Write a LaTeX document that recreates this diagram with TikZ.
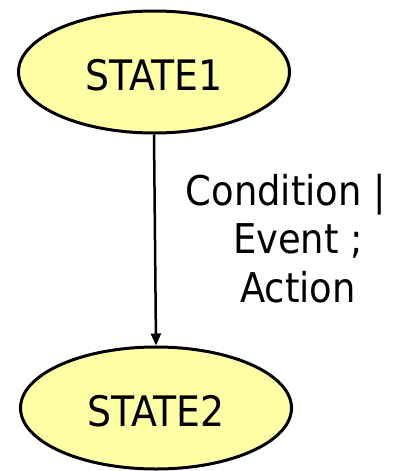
\documentclass[tikz,border=0pt]{standalone}
\usepackage{fontspec}
\setmainfont{DejaVu Sans Condensed}
\usetikzlibrary{shapes.geometric,arrows.meta}
\definecolor{statefill}{HTML}{FFFFA6}
\tikzset{
  state/.style={ellipse, draw=black, line width=3pt, fill=statefill,
    minimum width=271pt, minimum height=122pt, inner sep=0pt,
    font=\fontsize{42}{50}\selectfont, text height=37pt, text depth=0pt},
  trans/.style={line width=2.5pt, -{Triangle[length=12pt,width=10pt]}},
  translabel/.style={font=\fontsize{41}{48.5}\selectfont, align=center}
}
\begin{document}
\begin{tikzpicture}[x=1pt,y=-1pt]
  \useasboundingbox (0,0) rectangle (401,471);
  \node[state] (s1) at (154,72) {STATE1};
  \node[state] (s2) at (156,408) {STATE2};
  \draw[trans] (s1.south) -- (s2.north);
  \node[translabel, anchor=base] (lbl) at (298,302)
    {Condition |\hspace*{24pt}\\Event ;\\Action};
\end{tikzpicture}
\end{document}
